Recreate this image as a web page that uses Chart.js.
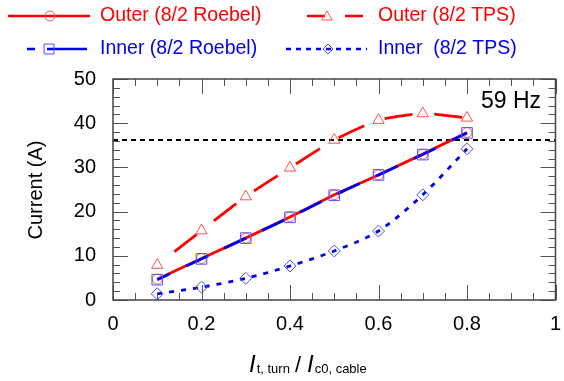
<!DOCTYPE html>
<html>
<head>
<meta charset="utf-8">
<script src="https://cdn.jsdelivr.net/npm/chart.js@4.4.1/dist/chart.umd.min.js"></script>
<style>
  html, body { margin: 0; padding: 0; background: #fff; }
  #wrap { width: 564px; height: 381px; position: relative; }
</style>
</head>
<body>
<div id="wrap"><canvas id="chart" width="564" height="381"></canvas></div>
<script>
// Ratio I_t,turn / I_c0,cable
const ratios = [0.1, 0.2, 0.3, 0.4, 0.5, 0.6, 0.7, 0.8];
// Current (A)
const outerRoebel = [4.7, 9.4, 14.0, 18.8, 23.8, 28.3, 33.0, 37.9];
const innerRoebel = [4.6, 9.3, 14.0, 18.7, 23.7, 28.3, 32.9, 37.8];
const outerTPS = [7.9, 15.7, 23.4, 29.9, 36.2, 40.7, 42.2, 41.2];
const innerTPS = [1.4, 2.9, 4.9, 7.7, 11.1, 15.6, 23.8, 34.2];
const limitX = [0, 1];
const limitY = [36.2, 36.2];
const xTicks = [0, 0.2, 0.4, 0.6, 0.8, 1];
const yTicks = [0, 10, 20, 30, 40, 50];
const freqLabel = '59 Hz';

const FONT = '"Liberation Sans", Arial, sans-serif';
const RED = '#ff0000';
const BLUE = '#0000ee';

const pts = (xs, ys) => xs.map((x, i) => ({ x, y: ys[i] }));

// cadre, graduations, titres d'axes et légende
const decor = {
  id: 'decor',
  afterDraw(chart) {
    const { ctx, chartArea: a, scales: { x, y } } = chart;
    ctx.save();

    // graduations internes
    ctx.strokeStyle = '#555';
    ctx.lineWidth = 1;
    ctx.beginPath();
    for (let i = 0; i <= 20; i++) {
      const v = i * 0.05;
      const px = Math.round(x.getPixelForValue(v)) + 0.5;
      const len = (i % 4 === 0) ? 15 : 7;
      ctx.moveTo(px, a.bottom); ctx.lineTo(px, a.bottom - len);
      ctx.moveTo(px, a.top); ctx.lineTo(px, a.top + len);
    }
    for (let i = 0; i <= 25; i++) {
      const v = i * 2;
      const py = Math.round(y.getPixelForValue(v)) + 0.5;
      const len = (i % 5 === 0) ? 15 : 7;
      ctx.moveTo(a.left, py); ctx.lineTo(a.left + len, py);
      ctx.moveTo(a.right, py); ctx.lineTo(a.right - len, py);
    }
    ctx.stroke();

    ctx.strokeStyle = '#444';
    ctx.lineWidth = 1.5;
    ctx.strokeRect(a.left, a.top, a.right - a.left, a.bottom - a.top);

    // 59 Hz
    ctx.fillStyle = '#000';
    ctx.font = '23px ' + FONT;
    ctx.textBaseline = 'middle';
    ctx.textAlign = 'left';
    ctx.fillText(freqLabel, 481, 102);

    // titre Y
    ctx.save();
    ctx.translate(36, 190);
    ctx.rotate(-Math.PI / 2);
    ctx.textAlign = 'center';
    ctx.font = '20px ' + FONT;
    ctx.fillText('Current (A)', 0, 0);
    ctx.restore();

    // titre X
    ctx.textAlign = 'left';
    ctx.textBaseline = 'alphabetic';
    let cx = 249;
    const base = 372;
    ctx.font = 'italic 24px ' + FONT;
    ctx.fillText('I', cx, base); cx += ctx.measureText('I').width + 1;
    ctx.font = '13px ' + FONT;
    ctx.fillText('t, turn', cx, base + 1); cx += ctx.measureText('t, turn').width + 5;
    ctx.font = '22px ' + FONT;
    ctx.fillText('/', cx, base); cx += ctx.measureText('/').width + 6;
    ctx.font = 'italic 24px ' + FONT;
    ctx.fillText('I', cx, base); cx += ctx.measureText('I').width + 1;
    ctx.font = '13px ' + FONT;
    ctx.fillText('c0, cable', cx, base + 1);

    // légende
    const drawSample = (x0, x1, yy, color, dash) => {
      ctx.strokeStyle = color;
      ctx.lineWidth = 2.5;
      ctx.setLineDash(dash);
      ctx.beginPath(); ctx.moveTo(x0, yy); ctx.lineTo(x1, yy); ctx.stroke();
      ctx.setLineDash([]);
    };
    const marker = (style, mx, my, r, color) => {
      ctx.lineWidth = 1;
      ctx.strokeStyle = color;
      Chart.helpers.drawPoint(ctx, { pointStyle: style, radius: r, borderWidth: 1 }, mx, my);
    };
    ctx.font = '19.5px ' + FONT;
    ctx.textBaseline = 'middle';

    drawSample(8, 90, 16, RED, []);
    ctx.fillStyle = 'rgba(0,0,0,0)';
    marker('circle', 50, 16, 5, '#ff5050');
    ctx.fillStyle = RED; ctx.fillText('Outer (8/2 Roebel)', 100, 16);

    drawSample(307, 365, 16, RED, [18, 20]);
    ctx.fillStyle = 'rgba(0,0,0,0)';
    marker('triangle', 327, 17, 6, '#ff5050');
    ctx.fillStyle = RED; ctx.fillText('Outer (8/2 TPS)', 378, 16);

    drawSample(27, 87, 49, BLUE, [8, 12, 40, 100]);
    ctx.fillStyle = 'rgba(0,0,0,0)';
    marker('rect', 49, 49, 7, '#5050ff');
    ctx.fillStyle = BLUE; ctx.fillText('Inner (8/2 Roebel)', 100, 49);

    drawSample(286, 367, 49, BLUE, [5, 5]);
    ctx.fillStyle = 'rgba(0,0,0,0)';
    marker('rectRot', 328, 49, 5, '#5050ff');
    ctx.fillStyle = BLUE; ctx.fillText('Inner  (8/2 TPS)', 378, 49);

    ctx.restore();
  }
};

new Chart(document.getElementById('chart'), {
  type: 'scatter',
  data: {
    datasets: [
      {
        label: 'Inner (8/2 Roebel)',
        data: pts(ratios, innerRoebel),
        showLine: true,
        borderColor: BLUE,
        borderWidth: 2.8,
        borderDash: [24, 18],
        borderDashOffset: 10,
        pointStyle: 'rect',
        pointRadius: 7.5,
        pointBorderWidth: 1,
        pointBorderColor: '#5050ff',
        pointBackgroundColor: 'rgba(0,0,0,0)',
        order: 0
      },
      {
        label: 'Outer (8/2 Roebel)',
        data: pts(ratios, outerRoebel),
        showLine: true,
        borderColor: RED,
        borderWidth: 2.8,
        pointStyle: 'circle',
        pointRadius: 5,
        pointBorderWidth: 1,
        pointBorderColor: '#ff5050',
        pointBackgroundColor: 'rgba(0,0,0,0)',
        order: 1
      },
      {
        label: 'Outer (8/2 TPS)',
        data: pts(ratios, outerTPS),
        showLine: true,
        borderColor: RED,
        borderWidth: 2.8,
        borderDash: [28, 22],
        borderDashOffset: 28,
        tension: 0.2,
        pointStyle: 'triangle',
        pointRadius: 6.5,
        pointBorderWidth: 1,
        pointBorderColor: '#ff5050',
        pointBackgroundColor: 'rgba(0,0,0,0)',
        order: 2
      },
      {
        label: 'Inner  (8/2 TPS)',
        data: pts(ratios, innerTPS),
        showLine: true,
        borderColor: BLUE,
        borderWidth: 2.8,
        borderDash: [5, 7],
        tension: 0.3,
        pointStyle: 'rectRot',
        pointRadius: 6,
        pointBorderWidth: 1,
        pointBorderColor: '#5050ff',
        pointBackgroundColor: 'rgba(0,0,0,0)',
        order: 3
      },
      {
        label: 'limit',
        data: pts(limitX, limitY),
        showLine: true,
        borderColor: '#000',
        borderWidth: 2,
        borderDash: [5, 4],
        pointRadius: 0,
        order: 4
      }
    ]
  },
  options: {
    responsive: false,
    animation: false,
    layout: { padding: { top: 79, right: 7, left: 0, bottom: 0 } },
    plugins: { legend: { display: false }, tooltip: { enabled: false } },
    scales: {
      x: {
        type: 'linear',
        min: 0, max: 1,
        afterBuildTicks: s => { s.ticks = xTicks.map(v => ({ value: v })); },
        afterFit: s => { s.height = 81; s.paddingLeft = 0; s.paddingRight = 0; },
        grid: { display: false },
        border: { display: false },
        ticks: {
          color: '#000',
          padding: 4,
          font: { family: FONT, size: 20 },
          callback: v => String(v)
        }
      },
      y: {
        type: 'linear',
        min: 0, max: 50,
        afterBuildTicks: s => { s.ticks = yTicks.map(v => ({ value: v })); },
        afterFit: s => { s.width = 113; s.paddingTop = 0; s.paddingBottom = 0; },
        grid: { display: false },
        border: { display: false },
        ticks: {
          color: '#000',
          padding: 9,
          font: { family: FONT, size: 20 }
        }
      }
    }
  },
  plugins: [decor]
});
</script>
</body>
</html>
